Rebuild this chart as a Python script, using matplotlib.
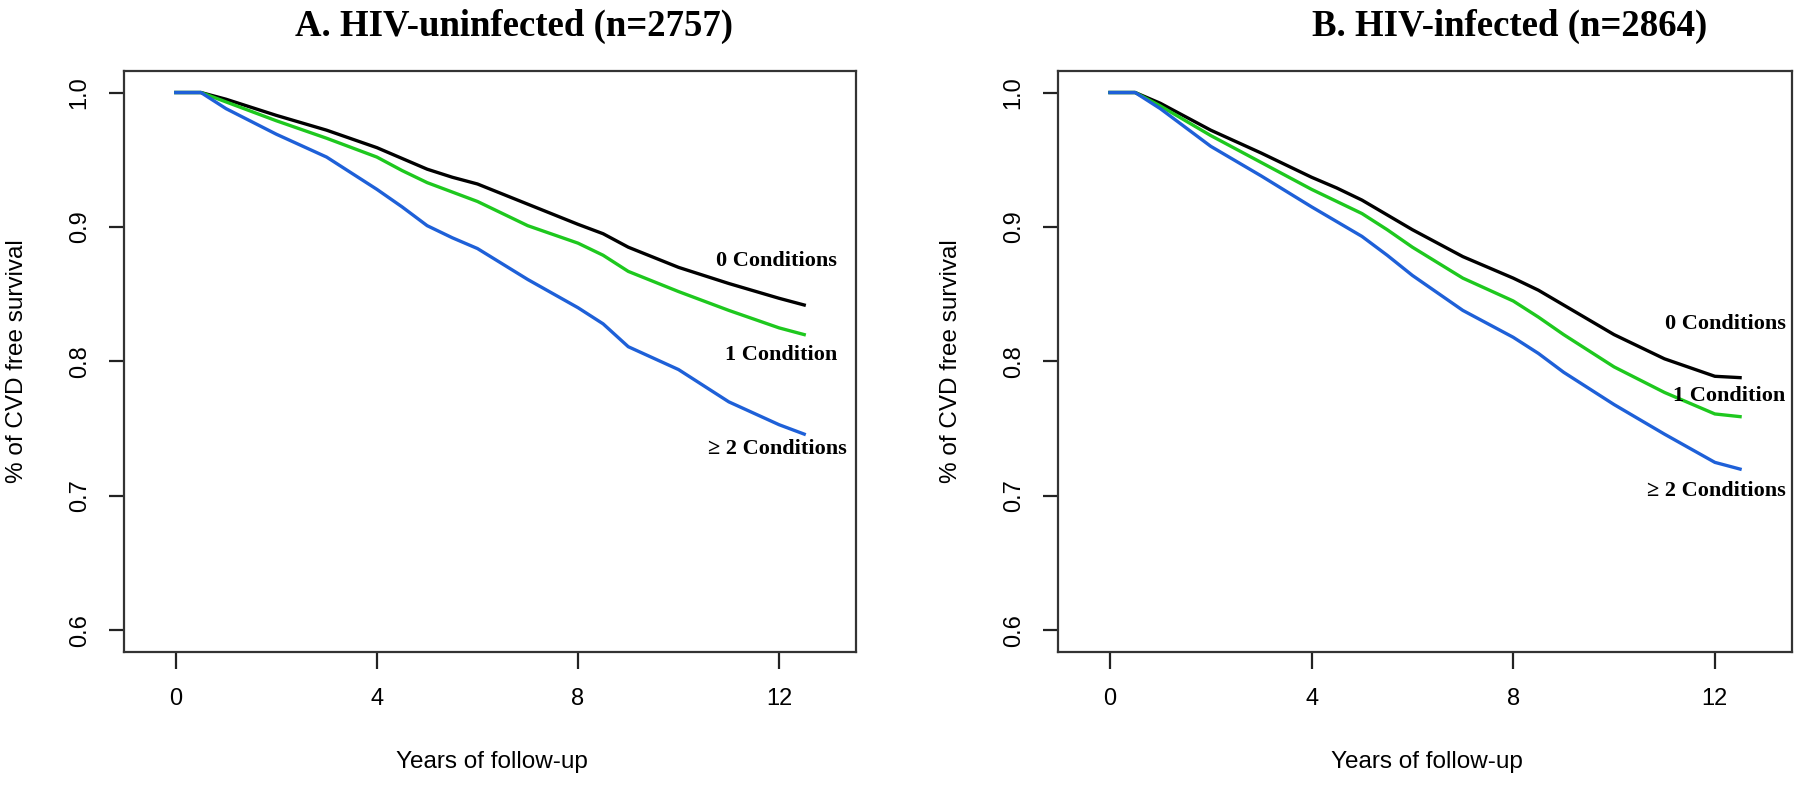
import matplotlib
matplotlib.use("Agg")
import matplotlib.pyplot as plt
from matplotlib import font_manager

# years of follow-up at which curves were read
years = [0, 0.5, 1, 2, 3, 4, 4.5, 5, 5.5, 6, 7, 8, 8.5, 9, 10, 11, 12, 12.5]

# A. HIV-uninfected
unf_0 = [1.0, 1.0, 0.995, 0.983, 0.972, 0.959, 0.951, 0.943, 0.937, 0.932, 0.917, 0.902, 0.895, 0.885, 0.870, 0.858, 0.847, 0.842]
unf_1 = [1.0, 1.0, 0.993, 0.979, 0.966, 0.952, 0.942, 0.933, 0.926, 0.919, 0.901, 0.888, 0.879, 0.867, 0.852, 0.838, 0.825, 0.820]
unf_2 = [1.0, 1.0, 0.988, 0.969, 0.952, 0.928, 0.915, 0.901, 0.892, 0.884, 0.861, 0.840, 0.828, 0.811, 0.794, 0.770, 0.753, 0.746]

# B. HIV-infected
inf_0 = [1.0, 1.0, 0.992, 0.972, 0.955, 0.937, 0.929, 0.920, 0.909, 0.898, 0.878, 0.862, 0.853, 0.842, 0.820, 0.802, 0.789, 0.788]
inf_1 = [1.0, 1.0, 0.990, 0.968, 0.948, 0.928, 0.919, 0.910, 0.898, 0.885, 0.862, 0.845, 0.833, 0.820, 0.796, 0.777, 0.761, 0.759]
inf_2 = [1.0, 1.0, 0.988, 0.960, 0.938, 0.915, 0.904, 0.893, 0.879, 0.864, 0.838, 0.818, 0.806, 0.792, 0.768, 0.746, 0.725, 0.720]

titles = ["A. HIV-uninfected (n=2757)", "B. HIV-infected (n=2864)"]
series_labels = ["0 Conditions", "1 Condition", "\u2265 2 Conditions"]
label_pos = [
    [(13.15, 0.875), (13.15, 0.805), (13.35, 0.735)],
    [(13.40, 0.828), (13.40, 0.774), (13.40, 0.704)],
]
colors = ["#000000", "#1ec81e", "#1e60d8"]

installed = {f.name for f in font_manager.fontManager.ttflist}
SANS = "Liberation Sans Narrow" if "Liberation Sans Narrow" in installed else "Liberation Sans"
SERIF = "Liberation Serif"

fig = plt.figure(figsize=(18, 7.92), dpi=100)
axes = [
    fig.add_axes([124 / 1800, 1 - 652 / 792, 732 / 1800, 581 / 792]),
    fig.add_axes([1058 / 1800, 1 - 652 / 792, 734 / 1800, 581 / 792]),
]
panels = [(unf_0, unf_1, unf_2), (inf_0, inf_1, inf_2)]

for i, (ax, curves) in enumerate(zip(axes, panels)):
    for ys, c in zip(curves, colors):
        ax.plot(years, ys, color=c, linewidth=2.4)
    ax.set_xlim(-1.03, 13.53)
    ax.set_ylim(0.584, 1.016)
    ax.set_xticks([0, 4, 8, 12])
    ax.set_yticks([0.6, 0.7, 0.8, 0.9, 1.0])
    ax.set_xticklabels(["0", "4", "8", "12"], fontfamily=SANS, fontsize=17)
    ax.set_yticklabels(["0.6", "0.7", "0.8", "0.9", "1.0"], fontfamily=SANS, fontsize=17,
                       rotation=90, va="center")
    ax.tick_params(axis="x", length=12, width=1.6, pad=14, color="#222222")
    ax.tick_params(axis="y", length=11, width=1.6, pad=13, color="#222222")
    for sp in ax.spines.values():
        sp.set_linewidth(1.6)
        sp.set_color("#333333")
    for text, (tx, ty) in zip(series_labels, label_pos[i]):
        ax.text(tx, ty, text, ha="right", va="center", fontfamily=SERIF,
                fontweight="bold", fontsize=16)

# titles and axis labels
fig.text(514 / 1800, 1 - 26 / 792, titles[0], ha="center", va="center",
         fontfamily=SERIF, fontweight="bold", fontsize=26.5)
fig.text(1510 / 1800, 1 - 26 / 792, titles[1], ha="center", va="center",
         fontfamily=SERIF, fontweight="bold", fontsize=26.5)
for x_axis_center, x_ylab in [(492, 17), (1427, 951)]:
    fig.text(x_axis_center / 1800, 1 - 762 / 792, "Years of follow-up", ha="center",
             va="center", fontfamily=SANS, fontsize=17.5)
    fig.text(x_ylab / 1800, 1 - 361 / 792, "% of CVD free survival", ha="center",
             va="center", rotation=90, fontfamily=SANS, fontsize=17.5)

fig.savefig("out.png", dpi=100)
